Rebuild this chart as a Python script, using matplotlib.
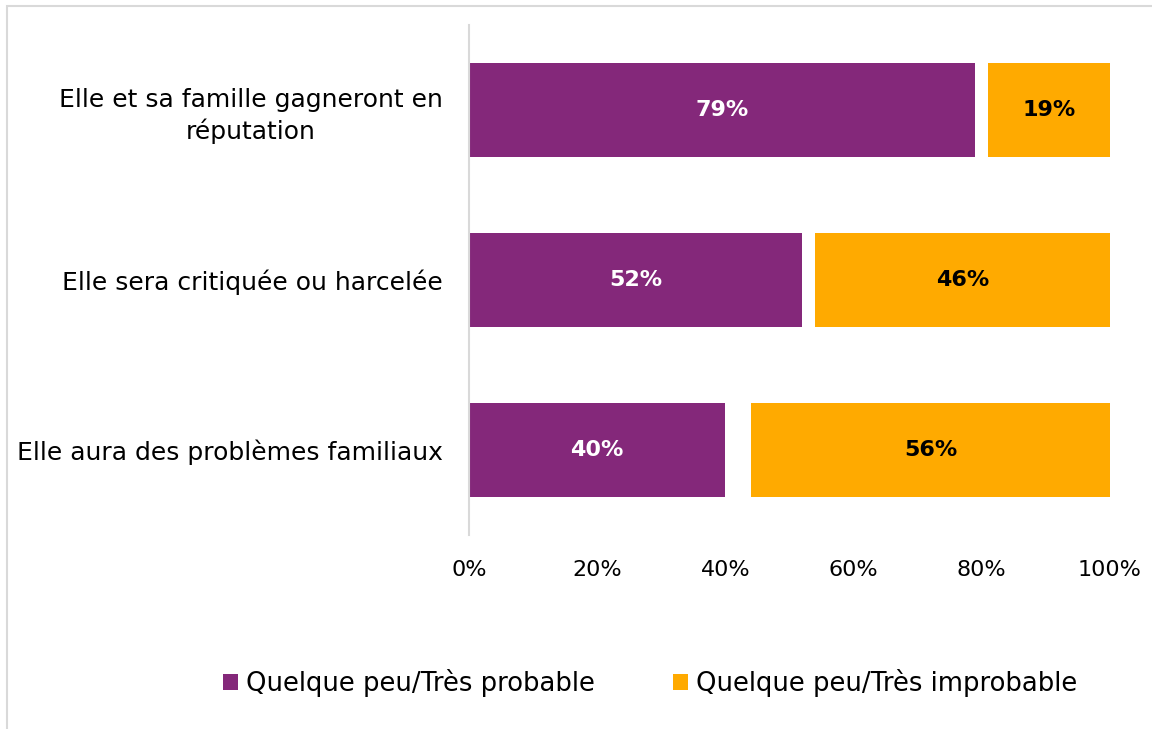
import matplotlib.pyplot as plt
from matplotlib.patches import Rectangle

categories = ["Elle et sa famille gagneront en\nréputation",
              "Elle sera critiquée ou harcelée",
              "Elle aura des problèmes familiaux"]
probable = [79, 52, 40]
improbable = [19, 46, 56]
series_names = ["Quelque peu/Très probable", "Quelque peu/Très improbable"]
xticks = [0, 20, 40, 60, 80, 100]
xticklabels = ["0%", "20%", "40%", "60%", "80%", "100%"]

purple = "#84287A"
orange = "#FFAA00"

plt.rcParams['font.family'] = ['DejaVu Sans']

fig = plt.figure(figsize=(11.52, 7.29), dpi=100)
fig.patches.append(Rectangle((7/1152, -0.05), 1.0, 1.05 - 6/729, transform=fig.transFigure,
                             fill=False, edgecolor="#D9D9D9", linewidth=1.5))
ax = fig.add_axes([469/1152, (729-535)/729, (1110-469)/1152, 510/729])

y = list(range(len(categories)))
h = 0.553
b1 = ax.barh(y, probable, height=h, color=purple, label=series_names[0])
left2 = [100 - v for v in improbable]
b2 = ax.barh(y, improbable, left=left2, height=h, color=orange, label=series_names[1])

for i in range(len(categories)):
    ax.text(probable[i] / 2, y[i], f"{probable[i]}%", ha="center", va="center",
            color="white", fontsize=16, fontweight="bold")
    ax.text(left2[i] + improbable[i] / 2, y[i], f"{improbable[i]}%", ha="center", va="center",
            color="black", fontsize=16, fontweight="bold")

ax.set_ylim(2.5, -0.5)
ax.set_xlim(0, 100)
ax.set_yticks(y)
ax.set_yticklabels(categories, fontsize=18, multialignment="center", linespacing=1.35)
ax.set_xticks(xticks)
ax.set_xticklabels(xticklabels, fontsize=16)
ax.tick_params(axis="both", length=0)
ax.tick_params(axis="y", pad=19)
ax.tick_params(axis="x", pad=18)
for s in ["top", "right", "bottom"]:
    ax.spines[s].set_visible(False)
ax.spines["left"].set_color("#D9D9D9")
ax.spines["left"].set_linewidth(1.5)

fig.legend(handles=[b1, b2], labels=series_names, loc="center",
           bbox_to_anchor=(650/1152, 1 - 683/729), ncol=2, frameon=False,
           fontsize=18.6, handlelength=0.6, handleheight=0.6, handletextpad=0.3,
           columnspacing=3.0)

fig.savefig("out.png", dpi=100)
